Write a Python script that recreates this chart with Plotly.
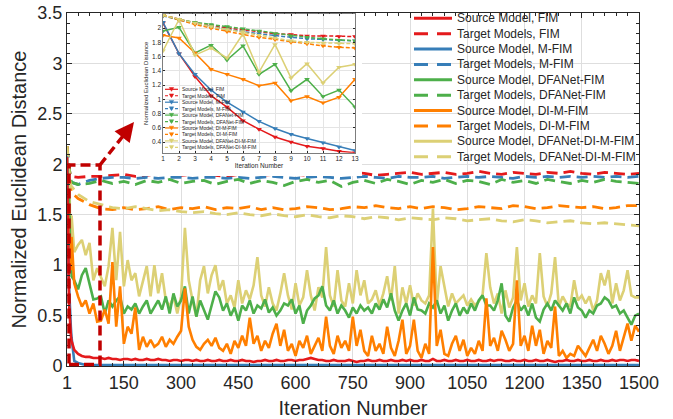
import plotly.graph_objects as go

# ---------------- data ----------------
iters_head = list(range(1, 14))                      # iterations 1..13 (shown in inset)
main_iters = iters_head + list(range(20, 1501, 10))  # source-model sampling
tgt_iters = iters_head + list(range(30, 1501, 30))   # target-model sampling

# Source models, first 13 iterations
src_fim_head = [2.07, 1.64, 1.32, 1.05, 0.89, 0.70, 0.58, 0.47, 0.40, 0.34, 0.31, 0.27, 0.25]
src_mfim_head = [2.08, 1.64, 1.35, 1.13, 0.96, 0.82, 0.69, 0.59, 0.51, 0.45, 0.39, 0.33, 0.28]
src_dfa_head = [1.96, 2.01, 1.65, 1.76, 1.55, 1.75, 1.35, 1.49, 1.12, 1.28, 1.04, 1.13, 0.89]
src_di_head = [1.90, 1.86, 1.65, 1.42, 1.35, 1.28, 1.19, 1.23, 0.98, 1.04, 0.95, 1.03, 1.28]
src_dfadi_head = [1.68, 2.12, 1.62, 1.72, 1.58, 1.92, 1.38, 1.77, 1.30, 1.50, 1.23, 1.45, 1.49]

# Source models, iterations 20..1500 (step 10)
src_fim_tail = [
    0.16, 0.12, 0.10, 0.09, 0.09, 0.08, 0.08, 0.08, 0.07, 0.08,
    0.07, 0.07, 0.06, 0.07, 0.07, 0.06, 0.07, 0.06, 0.06, 0.07,
    0.06, 0.06, 0.07, 0.06, 0.06, 0.05, 0.06, 0.06, 0.05, 0.06,
    0.06, 0.05, 0.06, 0.05, 0.05, 0.06, 0.05, 0.05, 0.06, 0.05,
    0.05, 0.06, 0.05, 0.05, 0.06, 0.05, 0.05, 0.04, 0.05, 0.05,
    0.06, 0.05, 0.05, 0.06, 0.05, 0.05, 0.06, 0.06, 0.05, 0.06,
    0.06, 0.07, 0.08, 0.07, 0.06, 0.06, 0.05, 0.05, 0.06, 0.05,
    0.05, 0.05, 0.06, 0.05, 0.04, 0.05, 0.05, 0.06, 0.05, 0.05,
    0.06, 0.05, 0.05, 0.06, 0.05, 0.05, 0.06, 0.05, 0.06, 0.05,
    0.05, 0.06, 0.05, 0.05, 0.07, 0.05, 0.05, 0.06, 0.05, 0.05,
    0.06, 0.05, 0.05, 0.06, 0.05, 0.05, 0.06, 0.05, 0.05, 0.06,
    0.05, 0.06, 0.06, 0.05, 0.05, 0.06, 0.05, 0.05, 0.06, 0.05,
    0.05, 0.06, 0.05, 0.05, 0.06, 0.05, 0.04, 0.05, 0.05, 0.06,
    0.05, 0.05, 0.06, 0.05, 0.05, 0.06, 0.05, 0.05, 0.06, 0.05,
    0.05, 0.06, 0.05, 0.06, 0.06, 0.05, 0.06, 0.06, 0.05]
src_mfim_tail = [
    0.05, 0.03, 0.02, 0.01, 0.01, 0.01, 0.01, 0.01, 0.01, 0.01,
    0.01, 0.01, 0.01, 0.01, 0.01, 0.01, 0.01, 0.01, 0.01, 0.01,
    0.01, 0.01, 0.01, 0.01, 0.01, 0.01, 0.01, 0.01, 0.01, 0.01,
    0.01, 0.01, 0.01, 0.01, 0.01, 0.01, 0.01, 0.01, 0.01, 0.01,
    0.01, 0.01, 0.01, 0.01, 0.01, 0.01, 0.01, 0.01, 0.01, 0.01,
    0.01, 0.01, 0.01, 0.01, 0.01, 0.01, 0.01, 0.01, 0.01, 0.01,
    0.01, 0.01, 0.01, 0.01, 0.01, 0.01, 0.01, 0.01, 0.01, 0.01,
    0.01, 0.01, 0.01, 0.01, 0.01, 0.01, 0.01, 0.01, 0.01, 0.01,
    0.01, 0.01, 0.01, 0.01, 0.01, 0.01, 0.01, 0.01, 0.01, 0.01,
    0.01, 0.01, 0.01, 0.01, 0.01, 0.01, 0.01, 0.01, 0.01, 0.01,
    0.01, 0.01, 0.01, 0.01, 0.01, 0.01, 0.01, 0.01, 0.01, 0.01,
    0.01, 0.01, 0.01, 0.01, 0.01, 0.01, 0.01, 0.01, 0.01, 0.01,
    0.01, 0.01, 0.01, 0.01, 0.01, 0.01, 0.01, 0.01, 0.01, 0.01,
    0.01, 0.01, 0.01, 0.01, 0.01, 0.01, 0.01, 0.01, 0.01, 0.01,
    0.01, 0.01, 0.01, 0.01, 0.01, 0.01, 0.01, 0.01, 0.01]
src_dfa_tail = [
    0.85, 0.76, 0.90, 0.97, 0.80, 0.66, 0.67, 0.69, 0.52, 0.65,
    0.59, 0.65, 0.69, 0.52, 0.59, 0.56, 0.62, 0.52, 0.59, 0.65,
    0.52, 0.59, 0.65, 0.56, 0.69, 0.52, 0.72, 0.59, 0.65, 0.79,
    0.52, 0.69, 0.49, 0.65, 0.55, 0.46,
    0.60, 0.74, 0.68, 0.55, 0.62, 0.50, 0.58, 0.45, 0.60, 0.55,
    0.65, 0.52, 0.60, 0.57, 0.66, 0.53, 0.58, 0.50, 0.55, 0.62,
    0.60, 0.66, 0.52, 0.60, 0.42, 0.55, 0.60, 0.67, 0.70, 0.79,
    0.60, 0.55, 0.65, 0.52, 0.60, 0.55, 0.48, 0.58,
    0.52, 0.60, 0.55, 0.58, 0.52, 0.62, 0.56, 0.66, 0.58, 0.72,
    0.55, 0.45, 0.55, 0.62, 0.50, 0.68, 0.56, 0.55, 0.52, 0.62,
    0.58, 0.65, 0.52, 0.60, 0.45, 0.55, 0.62, 0.50, 0.58, 0.52,
    0.62, 0.55, 0.65, 0.70, 0.60,
    0.60, 0.55, 0.65, 0.82, 0.50, 0.44, 0.58, 0.65, 0.55, 0.60,
    0.50, 0.62, 0.48, 0.44, 0.56, 0.62, 0.55, 0.65, 0.60, 0.55,
    0.62, 0.52, 0.68, 0.58, 0.55, 0.48, 0.55, 0.52, 0.60, 0.62,
    0.68, 0.65, 0.58, 0.60, 0.52, 0.55, 0.48, 0.41, 0.50, 0.52]
src_di_tail = [
    0.82, 0.69, 0.59, 0.65, 0.52, 0.62, 0.44, 0.45, 0.56, 0.42,
    1.03, 0.39, 0.79, 0.22, 0.39, 0.32, 0.58, 0.16, 0.29, 0.19,
    0.26, 0.19, 0.22, 0.29, 0.19, 0.26, 0.22, 0.29, 0.35, 0.77,
    0.39, 0.26, 0.19, 0.16, 0.22, 0.26,
    0.20, 0.28, 0.18, 0.15, 0.22, 0.12, 0.25, 0.18, 0.30, 0.20,
    0.48, 0.22, 0.30, 0.15, 0.25, 0.18, 0.32, 0.42, 0.20, 0.36,
    0.15, 0.22, 0.10, 0.25, 0.18, 0.30, 0.12, 0.20, 0.28, 0.15,
    0.49, 0.20, 0.12, 0.30, 0.18, 0.25, 0.15, 0.49,
    0.20, 0.36, 0.15, 0.10, 0.30, 0.15, 0.22, 0.12, 0.39, 0.18,
    0.10, 0.25, 0.46, 0.12, 0.20, 0.46, 0.15, 0.08, 0.22, 0.12,
    1.18, 0.20, 0.36, 0.12, 0.10, 0.22, 0.30, 0.15, 0.26, 0.10,
    0.18, 0.12, 0.25, 0.15, 0.67,
    0.20, 0.28, 0.15, 0.35, 0.26, 0.15, 0.22, 0.85, 0.20, 0.30,
    0.15, 0.40, 0.20, 0.36, 0.12, 0.25, 0.18, 0.59, 0.10, 0.15,
    0.08, 0.12, 0.10, 0.20, 0.15, 0.10, 0.18, 0.26, 0.15, 0.30,
    0.22, 0.12, 0.20, 0.35, 0.15, 0.28, 0.42, 0.25, 0.40, 0.34]
src_dfadi_tail = [
    1.13, 1.20, 1.25, 1.10, 1.22, 0.85, 0.97, 0.88, 0.79, 0.99,
    1.37, 0.85, 1.33, 0.79, 1.05, 0.85, 0.92, 0.69, 0.85, 0.99,
    0.69, 1.00, 0.72, 0.92, 0.65, 0.59, 0.69, 0.52, 0.69, 1.37,
    0.85, 0.65, 0.49, 0.85, 0.99, 0.72,
    0.90, 1.00, 0.75, 0.85, 0.62, 0.70, 0.58, 0.85, 0.62, 0.75,
    0.66, 0.80, 1.08, 0.70, 0.59, 0.78, 0.62, 0.55, 0.72, 0.92,
    0.70, 0.56, 0.82, 0.60, 0.68, 0.95, 0.70, 0.55, 0.78, 0.68,
    1.18, 0.70, 0.59, 0.95, 0.65, 0.59, 0.82, 0.62,
    0.95, 0.70, 0.85, 0.62, 0.66, 0.75, 0.60, 0.72, 0.89, 0.65,
    0.99, 0.52, 0.78, 0.62, 0.80, 0.60, 0.72, 0.65, 0.62, 0.70,
    1.56, 0.60, 0.99, 0.80, 0.59, 0.72, 0.62, 0.66, 0.70, 0.60,
    0.66, 0.60, 0.64, 0.70, 1.12,
    0.78, 0.62, 0.72, 0.52, 0.75, 0.58, 0.68, 1.18, 0.65, 0.82,
    0.59, 0.70, 0.62, 1.12, 0.69, 0.59, 0.72, 1.08, 0.59, 0.69,
    0.62, 0.59, 0.85, 0.65, 0.70, 0.62, 0.69, 0.55, 0.65, 0.92,
    0.80, 0.95, 0.62, 0.82, 0.65, 0.75, 0.95, 0.70, 0.68, 0.68]

# Target models, first 13 iterations
tgt_fim_head = [2.18, 2.12, 2.07, 2.03, 2.00, 1.97, 1.95, 1.92, 1.91, 1.89, 1.89, 1.88, 1.88]
tgt_mfim_head = [2.17, 2.11, 2.06, 2.02, 1.98, 1.95, 1.92, 1.89, 1.87, 1.85, 1.84, 1.83, 1.82]
tgt_dfa_head = [2.18, 2.12, 2.08, 2.05, 2.02, 1.99, 1.96, 1.92, 1.89, 1.87, 1.85, 1.83, 1.82]
tgt_di_head = [2.18, 2.11, 2.05, 2.00, 1.95, 1.91, 1.87, 1.84, 1.80, 1.78, 1.75, 1.73, 1.72]
tgt_dfadi_head = [2.18, 2.12, 2.07, 2.02, 1.98, 1.95, 1.90, 1.86, 1.82, 1.80, 1.79, 1.78, 1.78]

# Target models, iterations 30..1500 (step 30)
tgt_fim_tail = [
    1.87, 1.88, 1.88, 1.89, 1.90, 1.88, 1.89, 1.91, 1.90, 1.89,
    1.90, 1.91, 1.89, 1.88, 1.90, 1.91, 1.89, 1.90, 1.92, 1.90,
    1.89, 1.90, 1.91, 1.90, 1.92, 1.91, 1.89, 1.90, 1.91, 1.92,
    1.90, 1.91, 1.92, 1.90, 1.91, 1.93, 1.91, 1.90, 1.92, 1.91,
    1.90, 1.92, 1.91, 1.93, 1.91, 1.90, 1.92, 1.91, 1.90, 1.91]
tgt_mfim_tail = [
    1.80, 1.84, 1.86, 1.87, 1.87, 1.86, 1.87, 1.86, 1.87, 1.87,
    1.86, 1.87, 1.87, 1.86, 1.87, 1.86, 1.87, 1.88, 1.87, 1.86,
    1.87, 1.88, 1.87, 1.86, 1.87, 1.88, 1.87, 1.86, 1.88, 1.87,
    1.87, 1.88, 1.86, 1.87, 1.88, 1.87, 1.88, 1.87, 1.86, 1.88,
    1.87, 1.88, 1.87, 1.88, 1.87, 1.88, 1.87, 1.88, 1.87, 1.88]
tgt_dfa_tail = [
    1.80, 1.81, 1.84, 1.81, 1.83, 1.80, 1.84, 1.82, 1.85, 1.81,
    1.83, 1.84, 1.80, 1.83, 1.85, 1.81, 1.84, 1.82, 1.79, 1.83,
    1.85, 1.82, 1.84, 1.78, 1.82, 1.84, 1.81, 1.85, 1.83, 1.80,
    1.84, 1.82, 1.85, 1.81, 1.84, 1.83, 1.80, 1.85, 1.82, 1.84,
    1.81, 1.85, 1.83, 1.81, 1.84, 1.82, 1.85, 1.83, 1.82, 1.81]
tgt_di_tail = [
    1.66, 1.60, 1.56, 1.55, 1.57, 1.55, 1.56, 1.58, 1.55, 1.57,
    1.56, 1.58, 1.55, 1.57, 1.56, 1.58, 1.55, 1.57, 1.55, 1.56,
    1.58, 1.57, 1.55, 1.56, 1.58, 1.57, 1.59, 1.57, 1.56, 1.58,
    1.56, 1.58, 1.57, 1.55, 1.56, 1.58, 1.57, 1.56, 1.59, 1.58,
    1.56, 1.57, 1.59, 1.58, 1.57, 1.58, 1.56, 1.57, 1.59, 1.59]
tgt_dfadi_tail = [
    1.70, 1.63, 1.60, 1.57, 1.56, 1.58, 1.56, 1.54, 1.55, 1.53,
    1.52, 1.53, 1.51, 1.50, 1.52, 1.50, 1.49, 1.51, 1.49, 1.48,
    1.50, 1.48, 1.47, 1.49, 1.48, 1.46, 1.48, 1.47, 1.45, 1.47,
    1.46, 1.45, 1.47, 1.46, 1.44, 1.45, 1.46, 1.44, 1.43, 1.45,
    1.44, 1.42, 1.43, 1.44, 1.42, 1.41, 1.42, 1.41, 1.40, 1.39]

method_names = ["FIM", "M-FIM", "DFANet-FIM", "DI-M-FIM", "DFANet-DI-M-FIM"]
src_heads = [src_fim_head, src_mfim_head, src_dfa_head, src_di_head, src_dfadi_head]
src_tails = [src_fim_tail, src_mfim_tail, src_dfa_tail, src_di_tail, src_dfadi_tail]
tgt_heads = [tgt_fim_head, tgt_mfim_head, tgt_dfa_head, tgt_di_head, tgt_dfadi_head]
tgt_tails = [tgt_fim_tail, tgt_mfim_tail, tgt_dfa_tail, tgt_di_tail, tgt_dfadi_tail]

x_tick_vals = [1, 150, 300, 450, 600, 750, 900, 1050, 1200, 1350, 1500]
y_tick_vals = [0, 0.5, 1, 1.5, 2, 2.5, 3, 3.5]
inset_x_ticks = list(range(1, 14))
inset_y_ticks = [0.4, 0.6, 0.8, 1.0, 1.2, 1.4, 1.6, 1.8, 2.0]

# ---------------- style ----------------
COLORS = ["#E41A1C", "#377EB8", "#4DAF4A", "#FF7F00", "#DCD075"]
FONT = "Liberation Sans, Arial, Helvetica, sans-serif"
TXT = "#262626"
GRID = "#DEDEDE"
BOXRED = "#C00000"
MAIN_DASH = "11px,6px"

# plot area in pixels (for paper conversions of decorations)
PL, PR, PT, PB = 67, 639, 13, 366
W, H = 673, 419


def px(x):
    return (x - PL) / (PR - PL)


def py(y):
    return (PB - y) / (PB - PT)


fig = go.Figure()

src_full = [h + t for h, t in zip(src_heads, src_tails)]
tgt_full = [h + t for h, t in zip(tgt_heads, tgt_tails)]

# main: targets first, then sources
for k in range(5):
    fig.add_trace(go.Scatter(
        x=tgt_iters, y=tgt_full[k], mode="lines",
        line=dict(color=COLORS[k], width=2.8, dash=MAIN_DASH),
        name="Target Models, " + method_names[k], showlegend=False,
        xaxis="x", yaxis="y", hoverinfo="skip"))
for k in [4, 2, 3, 1, 0]:
    fig.add_trace(go.Scatter(
        x=main_iters, y=src_full[k], mode="lines",
        line=dict(color=COLORS[k], width=2.6),
        name="Source Model, " + method_names[k], showlegend=False,
        xaxis="x", yaxis="y", hoverinfo="skip"))

# holder subplot for the inset's white background
fig.add_trace(go.Scatter(x=[], y=[], xaxis="x2", yaxis="y2", showlegend=False))

# inset traces
for k in range(5):
    fig.add_trace(go.Scatter(
        x=iters_head, y=src_heads[k], mode="lines+markers",
        line=dict(color=COLORS[k], width=1.5),
        marker=dict(symbol="triangle-down", size=5, color=COLORS[k]),
        showlegend=False, xaxis="x3", yaxis="y3", hoverinfo="skip"))
    fig.add_trace(go.Scatter(
        x=iters_head, y=tgt_heads[k], mode="lines+markers",
        line=dict(color=COLORS[k], width=1.5, dash="4px,2px"),
        marker=dict(symbol="triangle-down", size=5, color=COLORS[k]),
        showlegend=False, xaxis="x3", yaxis="y3", hoverinfo="skip"))

shapes = []
annotations = []

# inset white background (drawn in holder subplot, above main traces)
shapes.append(dict(type="rect", xref="x2", yref="y2", x0=0, x1=1, y0=0, y1=1,
                   fillcolor="white", line=dict(width=0), layer="below"))

# red dashed zoom box
shapes.append(dict(type="rect", xref="paper", yref="paper",
                   x0=px(69), x1=px(100), y0=py(364.5), y1=py(165),
                   line=dict(color=BOXRED, width=3.5, dash="10px,5px"),
                   fillcolor="rgba(0,0,0,0)", layer="above"))
# dashed arrow line
shapes.append(dict(type="line", xref="paper", yref="paper",
                   x0=px(100), y0=py(165), x1=px(127), y1=py(131),
                   line=dict(color=BOXRED, width=3.5, dash="9px,5px"), layer="above"))
annotations.append(dict(xref="paper", yref="paper", x=px(134), y=py(122),
                        ax=-9, ay=11.5, showarrow=True, arrowhead=2, arrowsize=1.1,
                        arrowwidth=3.5, arrowcolor=BOXRED, text=""))

# main legend (custom, compact)
legend_names = []
for k in range(5):
    legend_names.append("Source Model, " + method_names[k])
    legend_names.append("Target Models, " + method_names[k])
for i, name in enumerate(legend_names):
    k = i // 2
    yy = py(18.3 + 15.38 * i)
    shapes.append(dict(type="line", xref="paper", yref="paper",
                       x0=px(414), x1=px(452), y0=yy, y1=yy,
                       line=dict(color=COLORS[k], width=3,
                                 dash="solid" if i % 2 == 0 else "14px,9px"),
                       layer="above"))
    annotations.append(dict(xref="paper", yref="paper", x=px(455), y=yy,
                            xanchor="left", yanchor="middle", showarrow=False,
                            text=name, font=dict(size=12, color=TXT, family=FONT)))

# inset legend (custom, tiny)
for i, name in enumerate(legend_names):
    k = i // 2
    cy = 89.3 + 6.45 * i
    yy = py(cy)
    shapes.append(dict(type="line", xref="paper", yref="paper",
                       x0=px(165), x1=px(178), y0=yy, y1=yy,
                       line=dict(color=COLORS[k], width=1.2,
                                 dash="solid" if i % 2 == 0 else "3px,2px"),
                       layer="above"))
    cx = 171.5
    path = "M {:.5f},{:.5f} L {:.5f},{:.5f} L {:.5f},{:.5f} Z".format(
        px(cx - 2.2), py(cy - 1.8), px(cx + 2.2), py(cy - 1.8), px(cx), py(cy + 2.0))
    shapes.append(dict(type="path", xref="paper", yref="paper", path=path,
                       fillcolor=COLORS[k], line=dict(color=COLORS[k], width=0.5),
                       layer="above"))
    annotations.append(dict(xref="paper", yref="paper", x=px(179.5), y=yy,
                            xanchor="left", yanchor="middle", showarrow=False,
                            text=name, font=dict(size=5, color=TXT, family=FONT)))

axis_common = dict(showline=True, linecolor=TXT, linewidth=1, mirror="ticks",
                   ticks="inside", tickcolor=TXT, showgrid=True, gridcolor=GRID,
                   gridwidth=1, zeroline=False)

fig.update_layout(
    width=W, height=H,
    margin=dict(l=PL, r=W - PR, t=PT, b=H - PB, autoexpand=False),
    paper_bgcolor="white", plot_bgcolor="white",
    showlegend=False, hovermode=False,
    font=dict(family=FONT, color=TXT),
    xaxis=dict(domain=[0, 1], anchor="y", range=[1, 1500],
               tickmode="array", tickvals=x_tick_vals, ticklen=5,
               tickfont=dict(size=18, color=TXT),
               title=dict(text="Iteration Number", font=dict(size=20, color=TXT), standoff=9),
               minor=dict(ticks="inside", ticklen=3, tickcolor=TXT,
                          tickvals=list(range(30, 1500, 30)), showgrid=False),
               **axis_common),
    yaxis=dict(domain=[0, 1], anchor="x", range=[0, 3.5],
               tickmode="array", tickvals=y_tick_vals, ticklen=5,
               tickfont=dict(size=18, color=TXT),
               title=dict(text="Normalized Euclidean Distance", font=dict(size=20, color=TXT), standoff=5),
               minor=dict(ticks="inside", ticklen=3, tickcolor=TXT,
                          dtick=0.1, tick0=0, showgrid=False),
               **axis_common),
    xaxis2=dict(domain=[px(140), px(362)], anchor="y2", range=[0, 1], visible=False,
                fixedrange=True),
    yaxis2=dict(domain=[py(176), py(13.8)], anchor="x2", range=[0, 1], visible=False,
                fixedrange=True),
    xaxis3=dict(domain=[px(163), px(355)], anchor="y3", range=[1, 13],
                tickmode="array", tickvals=inset_x_ticks, ticklen=2,
                tickfont=dict(size=6.5, color=TXT),
                title=dict(text="Iteration Number", font=dict(size=6.5, color=TXT), standoff=1),
                showline=True, linecolor=TXT, linewidth=0.6, mirror="ticks",
                ticks="inside", tickcolor=TXT, showgrid=True, gridcolor="#E4E4E4",
                zeroline=False),
    yaxis3=dict(domain=[py(152.7), py(13.8)], anchor="x3", range=[0.25, 2.2],
                tickmode="array", tickvals=inset_y_ticks, ticklen=2,
                tickfont=dict(size=6.5, color=TXT),
                title=dict(text="Normalized Euclidean Distance", font=dict(size=6, color=TXT), standoff=2),
                showline=True, linecolor=TXT, linewidth=0.6, mirror="ticks",
                ticks="inside", tickcolor=TXT, showgrid=True, gridcolor="#E4E4E4",
                zeroline=False),
    shapes=shapes,
    annotations=annotations,
)

fig.write_html("out.html",
               config={"displayModeBar": False, "staticPlot": True},
               post_script="document.body.style.margin='0px';"
                           "document.body.style.overflow='hidden';")
